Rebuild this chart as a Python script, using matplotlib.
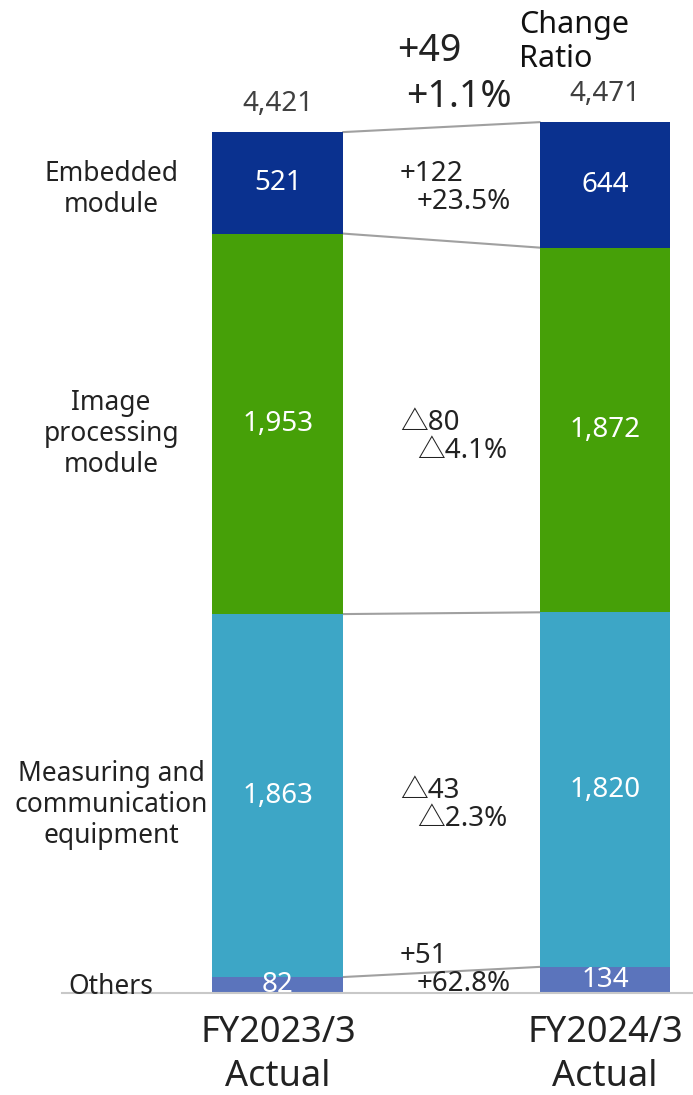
import matplotlib
matplotlib.use('Agg')
import matplotlib.pyplot as plt
import numpy as np

plt.rcParams['font.family'] = ['Noto Sans', 'Noto Sans CJK JP', 'DejaVu Sans']

# data ---------------------------------------------------------------
periods = ['FY2023/3\nActual', 'FY2024/3\nActual']
segments = ['Others', 'Measuring and\ncommunication\nequipment', 'Image\nprocessing\nmodule', 'Embedded\nmodule']
fy2023 = [82, 1863, 1953, 521]
fy2024 = [134, 1820, 1872, 644]
totals = [4421, 4471]
diff_abs = ['+51', '△43', '△80', '+122']
diff_pct = ['+62.8%', '△2.3%', '△4.1%', '+23.5%']
total_diff = ['+49', '+1.1%']
colors = ['#5B74BC', '#3DA6C6', '#46A008', '#0A318F']

# small vertical nudges (points) for the side / middle labels
label_dy = [-3, -9, -5, -4]
delta_dy = [-1, -9, -7, -3]

# plot ---------------------------------------------------------------
fig = plt.figure(figsize=(6.93, 10.95), dpi=100)
ax = fig.add_axes([62/693, 102/1095, 631/693, 993/1095])

xpos = np.array([0, 1])
width = 0.4
vals = np.array([fy2023, fy2024])
bottoms = np.zeros(2)
mids = []
for i, seg in enumerate(segments):
    h = vals[:, i]
    ax.bar(xpos, h, width, bottom=bottoms, color=colors[i], zorder=2)
    m = bottoms + h / 2
    mids.append(m)
    for j in range(2):
        ax.text(xpos[j], m[j], f'{h[j]:,}', ha='center', va='center',
                color='white', fontsize=20, zorder=3)
    bottoms = bottoms + h
    # connector lines from top of segment
    ax.plot([xpos[0] + width/2, xpos[1] - width/2], [bottoms[0], bottoms[1]],
            color='#A0A0A0', lw=1.5, zorder=1)

# left category labels
for i, seg in enumerate(segments):
    yc = (mids[i][0] + mids[i][1]) / 2 if i > 0 else 50
    ax.annotate(seg, (-0.51, yc), xytext=(0, label_dy[i]), textcoords='offset points',
                ha='center', va='center', fontsize=19, color='#222222',
                linespacing=1.15)

# diff labels
for i in range(len(segments)):
    yc = (mids[i][0] + mids[i][1]) / 2
    if i == 0:
        yc = 125
    ax.annotate(diff_abs[i], (0.373, yc), xytext=(0, 10 + delta_dy[i]), textcoords='offset points',
                ha='left', va='center', fontsize=20, color='#222222')
    ax.annotate(diff_pct[i], (0.425, yc), xytext=(0, -10 + delta_dy[i]), textcoords='offset points',
                ha='left', va='center', fontsize=20, color='#222222')

# totals
for j in range(2):
    ax.annotate(f'{totals[j]:,}', (xpos[j], totals[j]), xytext=(0, 20),
                textcoords='offset points', ha='center', va='center',
                fontsize=20, color='#404040')
ax.annotate(total_diff[0], (0.365, totals[1]), xytext=(0, 51), textcoords='offset points',
            ha='left', va='center', fontsize=27, color='#222222')
ax.annotate(total_diff[1], (0.716, totals[1]), xytext=(0, 18), textcoords='offset points',
            ha='right', va='center', fontsize=27, color='#222222')
ax.text(0.738, 4882, 'Change\nRatio', ha='left', va='center', fontsize=22,
        color='#111111', linespacing=1.2)

ax.set_xlim(-0.66, 1.269)
ax.set_ylim(0, 5097)
ax.set_xticks(xpos, periods, fontsize=26, color='#222222', linespacing=1.28)
ax.tick_params(axis='x', length=0, pad=16)
ax.set_yticks([])
for s in ['top', 'right', 'left']:
    ax.spines[s].set_visible(False)
ax.spines['bottom'].set_color('#C8C8C8')
ax.spines['bottom'].set_linewidth(1.5)

fig.savefig('out.png', dpi=100)
